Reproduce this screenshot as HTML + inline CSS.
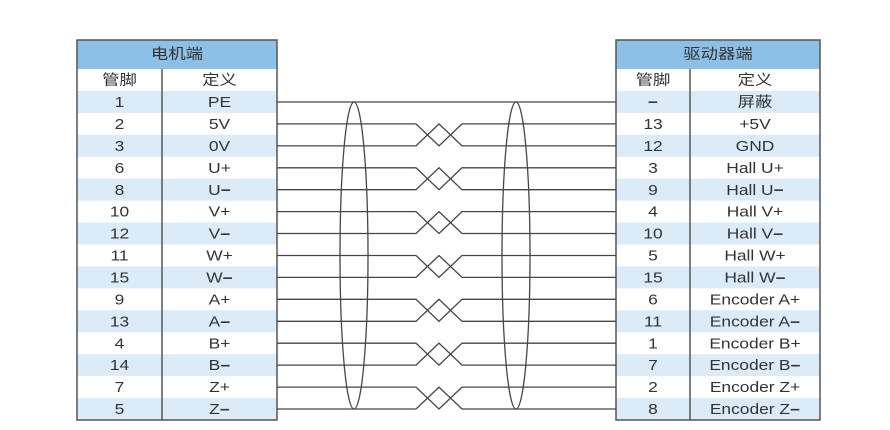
<!DOCTYPE html>
<html><head><meta charset="utf-8"><style>
html,body{margin:0;padding:0;background:#fff;}
svg{display:block;}
text{font-family:"Liberation Sans","Noto Sans CJK SC",sans-serif;font-size:14.5px;fill:#333;text-anchor:middle;dominant-baseline:central;}
</style></head><body>
<svg width="890" height="430" viewBox="0 0 890 430" xmlns="http://www.w3.org/2000/svg">
<g fill="#dcebf8">
<rect x="77" y="91" width="200" height="21.93"/>
<rect x="77" y="134.86" width="200" height="21.93"/>
<rect x="77" y="178.72" width="200" height="21.93"/>
<rect x="77" y="222.58" width="200" height="21.93"/>
<rect x="77" y="266.44" width="200" height="21.93"/>
<rect x="77" y="310.3" width="200" height="21.93"/>
<rect x="77" y="354.16" width="200" height="21.93"/>
<rect x="77" y="398.02" width="200" height="21.93"/>
<rect x="616" y="91" width="204" height="21.93"/>
<rect x="616" y="134.86" width="204" height="21.93"/>
<rect x="616" y="178.72" width="204" height="21.93"/>
<rect x="616" y="222.58" width="204" height="21.93"/>
<rect x="616" y="266.44" width="204" height="21.93"/>
<rect x="616" y="310.3" width="204" height="21.93"/>
<rect x="616" y="354.16" width="204" height="21.93"/>
<rect x="616" y="398.02" width="204" height="21.93"/>
</g>
<rect x="77" y="40" width="200" height="29" fill="#8cc0e6"/>
<rect x="616" y="40" width="204" height="29" fill="#8cc0e6"/>
<g fill="none" stroke="#555" stroke-width="1.5">
<rect x="77" y="40" width="200" height="380"/>
<line x1="162" y1="69" x2="162" y2="420"/>
<rect x="616" y="40" width="204" height="380"/>
<line x1="690" y1="69" x2="690" y2="420"/>
</g>
<g fill="none" stroke="#4a4444" stroke-width="1.3">
<path d="M277 102H616"/>
<path d="M277 123.9H416L439 145.9L462 123.9H616M277 145.9H416L439 123.9L462 145.9H616"/>
<path d="M277 167.8H416L439 189.7L462 167.8H616M277 189.7H416L439 167.8L462 189.7H616"/>
<path d="M277 211.6H416L439 233.5L462 211.6H616M277 233.5H416L439 211.6L462 233.5H616"/>
<path d="M277 255.5H416L439 277.4L462 255.5H616M277 277.4H416L439 255.5L462 277.4H616"/>
<path d="M277 299.3H416L439 321.3L462 299.3H616M277 321.3H416L439 299.3L462 321.3H616"/>
<path d="M277 343.2H416L439 365.1L462 343.2H616M277 365.1H416L439 343.2L462 365.1H616"/>
<path d="M277 387.1H416L439 409L462 387.1H616M277 409H416L439 387.1L462 409H616"/>
<ellipse cx="354" cy="255.5" rx="14" ry="153.5"/>
<ellipse cx="516" cy="255.5" rx="14" ry="153.5"/>
</g>
<g transform="translate(0,1) scale(1.2,1)">
<text x="147.5" y="54">电机端</text>
<text x="99.58" y="80">管脚</text><text x="182.92" y="80">定义</text>
<text x="99.58" y="102">1</text><text x="182.92" y="102">PE</text>
<text x="99.58" y="123.9">2</text><text x="182.92" y="123.9">5V</text>
<text x="99.58" y="145.9">3</text><text x="182.92" y="145.9">0V</text>
<text x="99.58" y="167.8">6</text><text x="182.92" y="167.8">U+</text>
<text x="99.58" y="189.7">8</text><text x="182.92" y="189.7">U<tspan font-weight="bold">−</tspan></text>
<text x="99.58" y="211.6">10</text><text x="182.92" y="211.6">V+</text>
<text x="99.58" y="233.5">12</text><text x="182.92" y="233.5">V<tspan font-weight="bold">−</tspan></text>
<text x="99.58" y="255.5">11</text><text x="182.92" y="255.5">W+</text>
<text x="99.58" y="277.4">15</text><text x="182.92" y="277.4">W<tspan font-weight="bold">−</tspan></text>
<text x="99.58" y="299.3">9</text><text x="182.92" y="299.3">A+</text>
<text x="99.58" y="321.3">13</text><text x="182.92" y="321.3">A<tspan font-weight="bold">−</tspan></text>
<text x="99.58" y="343.2">4</text><text x="182.92" y="343.2">B+</text>
<text x="99.58" y="365.1">14</text><text x="182.92" y="365.1">B<tspan font-weight="bold">−</tspan></text>
<text x="99.58" y="387.1">7</text><text x="182.92" y="387.1">Z+</text>
<text x="99.58" y="409">5</text><text x="182.92" y="409">Z<tspan font-weight="bold">−</tspan></text>

<text x="598.33" y="54">驱动器端</text>
<text x="544.17" y="80">管脚</text><text x="629.17" y="80">定义</text>
<text x="544.17" y="102" font-weight="bold">−</text><text x="629.17" y="102">屏蔽</text>
<text x="544.17" y="123.9">13</text><text x="629.17" y="123.9">+5V</text>
<text x="544.17" y="145.9">12</text><text x="629.17" y="145.9">GND</text>
<text x="544.17" y="167.8">3</text><text x="629.17" y="167.8">Hall U+</text>
<text x="544.17" y="189.7">9</text><text x="629.17" y="189.7">Hall U<tspan font-weight="bold">−</tspan></text>
<text x="544.17" y="211.6">4</text><text x="629.17" y="211.6">Hall V+</text>
<text x="544.17" y="233.5">10</text><text x="629.17" y="233.5">Hall V<tspan font-weight="bold">−</tspan></text>
<text x="544.17" y="255.5">5</text><text x="629.17" y="255.5">Hall W+</text>
<text x="544.17" y="277.4">15</text><text x="629.17" y="277.4">Hall W<tspan font-weight="bold">−</tspan></text>
<text x="544.17" y="299.3">6</text><text x="629.17" y="299.3">Encoder A+</text>
<text x="544.17" y="321.3">11</text><text x="629.17" y="321.3">Encoder A<tspan font-weight="bold">−</tspan></text>
<text x="544.17" y="343.2">1</text><text x="629.17" y="343.2">Encoder B+</text>
<text x="544.17" y="365.1">7</text><text x="629.17" y="365.1">Encoder B<tspan font-weight="bold">−</tspan></text>
<text x="544.17" y="387.1">2</text><text x="629.17" y="387.1">Encoder Z+</text>
<text x="544.17" y="409">8</text><text x="629.17" y="409">Encoder Z<tspan font-weight="bold">−</tspan></text>
</g>
</svg>
</body></html>
